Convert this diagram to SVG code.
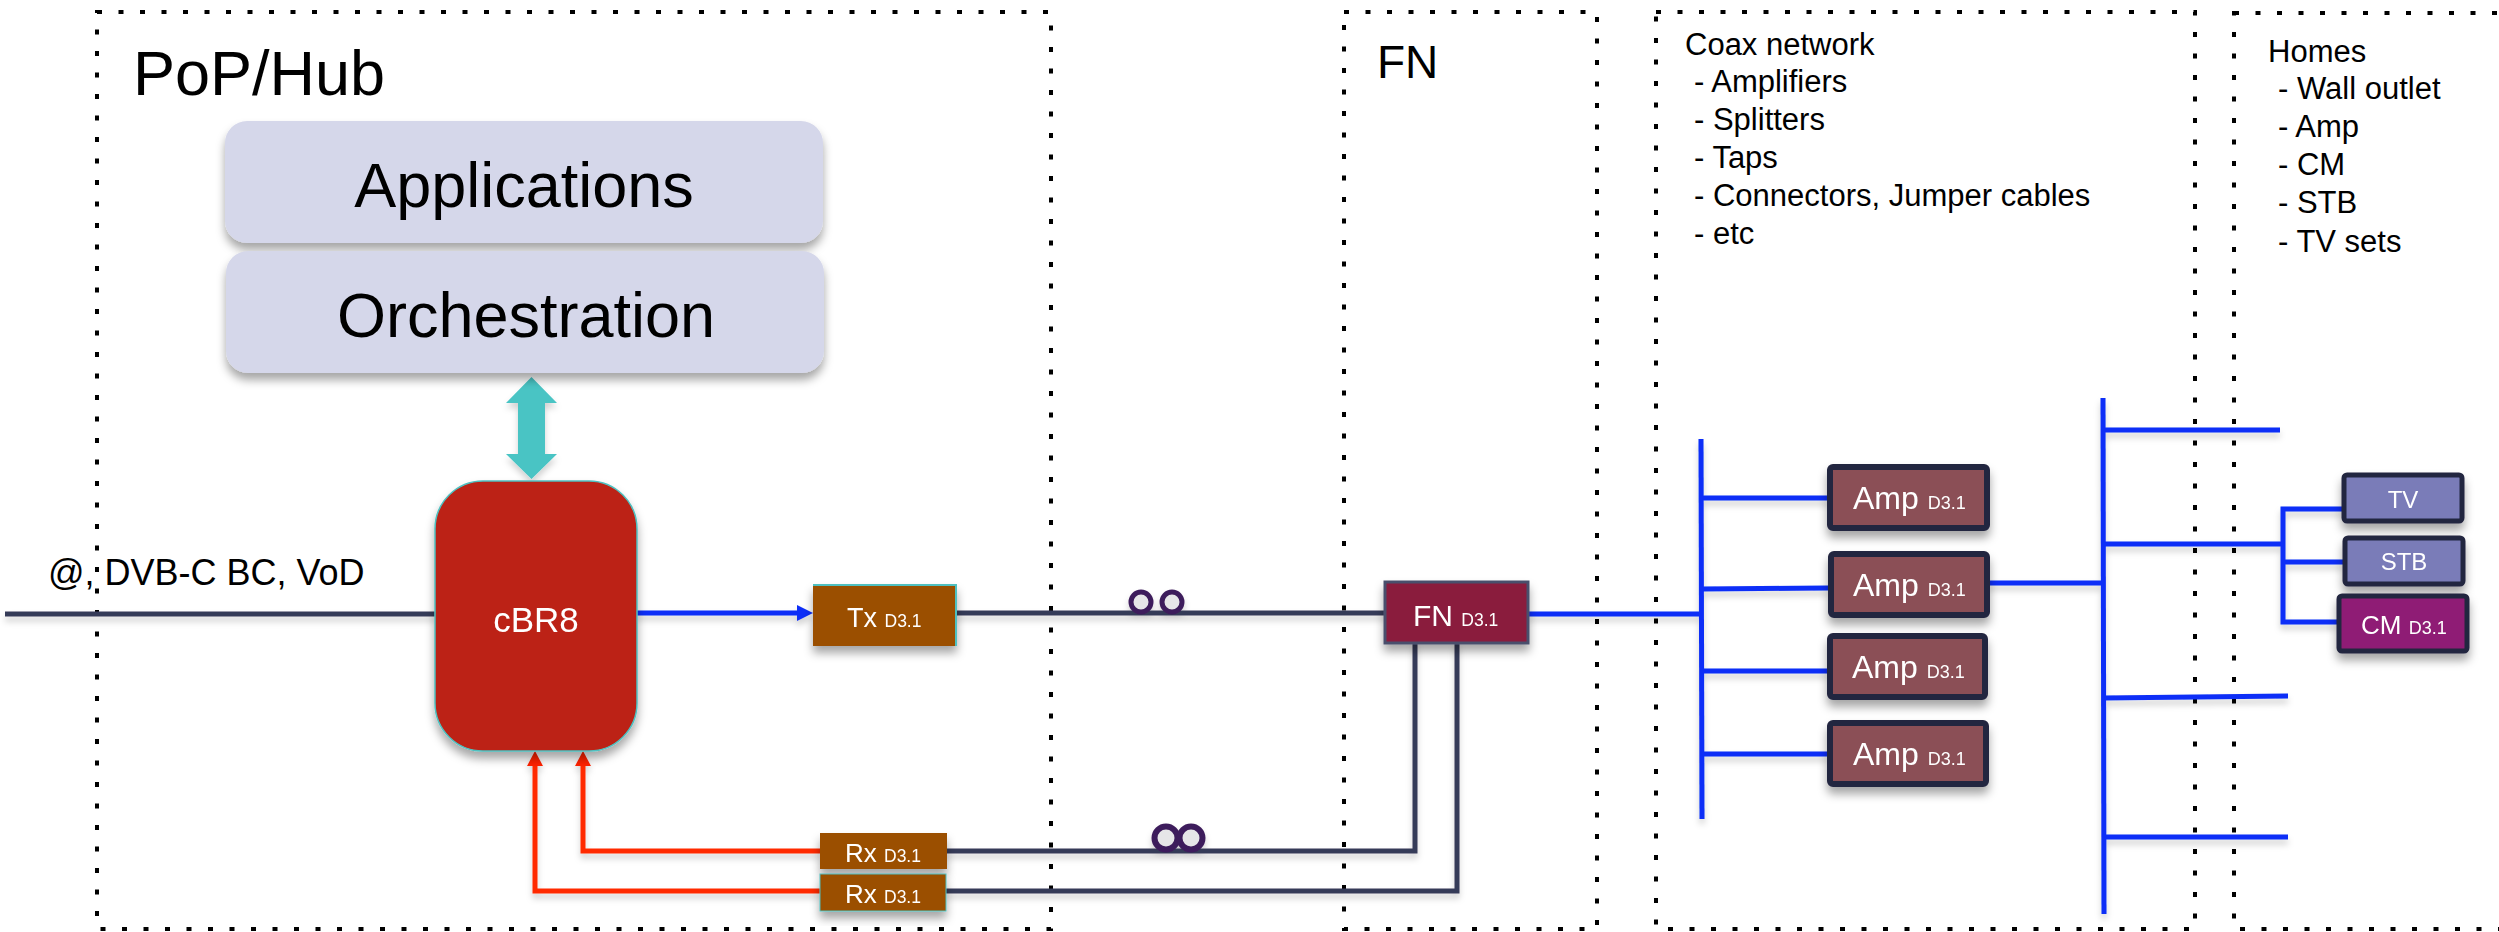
<svg xmlns="http://www.w3.org/2000/svg" width="2499" height="932" viewBox="0 0 2499 932">
<defs>
<filter id="sh" x="-20%" y="-20%" width="140%" height="160%">
<feDropShadow dx="0" dy="7" stdDeviation="5" flood-color="#000" flood-opacity="0.35"/>
</filter>
<filter id="lsh" x="-5%" y="-50%" width="110%" height="300%">
<feDropShadow dx="0" dy="5" stdDeviation="3" flood-color="#000" flood-opacity="0.18"/>
</filter>
</defs>
<style>
.zone{fill:none;stroke:#000;stroke-width:4;stroke-dasharray:5 16.5}
.t{font-family:"Liberation Sans",Arial,sans-serif;fill:#000}
.w{font-family:"Liberation Sans",Arial,sans-serif;fill:#fff}
.dark{fill:none;stroke:#363a58;stroke-width:5}
.blue{fill:none;stroke:#0b2ff7;stroke-width:5}
.red{fill:none;stroke:#ff2a00;stroke-width:5}
.loop{fill:#e6e6e8;stroke:#3e1d5b}
.amp{fill:#8b5057;stroke:#23253f;stroke-width:6}
.home{stroke:#23263f;stroke-width:5}
.brown{fill:#9b4f02}
.sm{font-size:17.5px}
</style>
<rect width="2499" height="932" fill="#fff"/>
<g id="zones">
<rect class="zone" x="97" y="12" width="954" height="917"/>
<rect class="zone" x="1344" y="12" width="253" height="917"/>
<rect class="zone" x="1656" y="12" width="539" height="917"/>
<rect class="zone" x="2234" y="13" width="300" height="916"/>
</g>
<g id="zone-labels">
<text class="t" x="133" y="95" font-size="63">PoP/Hub</text>
<text class="t" x="1377" y="78" font-size="46">FN</text>
<g font-size="31">
<text class="t" x="1685" y="55">Coax network</text>
<text class="t" x="1694" y="92">- Amplifiers</text>
<text class="t" x="1694" y="130">- Splitters</text>
<text class="t" x="1694" y="168">- Taps</text>
<text class="t" x="1694" y="206">- Connectors, Jumper cables</text>
<text class="t" x="1694" y="244">- etc</text>
<text class="t" x="2268" y="62">Homes</text>
<text class="t" x="2278" y="99">- Wall outlet</text>
<text class="t" x="2278" y="137">- Amp</text>
<text class="t" x="2278" y="175">- CM</text>
<text class="t" x="2278" y="213">- STB</text>
<text class="t" x="2278" y="252">- TV sets</text>
</g>
<text class="t" x="48" y="585" font-size="36">@, DVB-C BC, VoD</text>
</g>
<g id="connectors" filter="url(#lsh)">
<line class="dark" x1="5" y1="614" x2="436" y2="614"/>
<line class="blue" x1="636" y1="613" x2="799" y2="613"/>
<polygon points="813,613 797,605 797,621" fill="#0b2ff7"/>
<polygon points="531.5,377 557,403 545,403 545,454 557,454 531.5,479 506,454 518,454 518,403 506,403" fill="#48c4c4"/>
<line class="dark" x1="955" y1="613" x2="1386" y2="613"/>
<circle class="loop" cx="1141" cy="602" r="10" stroke-width="5"/>
<circle class="loop" cx="1172" cy="602" r="10" stroke-width="5"/>
<path class="dark" d="M946,851 H1415 V642"/>
<path class="dark" d="M945,891 H1457 V642"/>
<circle class="loop" cx="1166" cy="838" r="11.5" stroke-width="6"/>
<circle class="loop" cx="1191" cy="838" r="11.5" stroke-width="6"/>
<path class="red" d="M821,851 H583 V763"/>
<path class="red" d="M821,891 H535 V763"/>
<polygon points="583,751 575,766 591,766" fill="#ff2200"/>
<polygon points="535,751 527,766 543,766" fill="#ff2200"/>
<line class="blue" x1="1527" y1="614" x2="1701" y2="614"/>
<line class="blue" x1="1701" y1="439" x2="1702" y2="819"/>
<line class="blue" x1="1701" y1="498" x2="1828" y2="498"/>
<line class="blue" x1="1701" y1="589" x2="1828" y2="588"/>
<line class="blue" x1="1701" y1="671" x2="1828" y2="671"/>
<line class="blue" x1="1701" y1="754" x2="1828" y2="754"/>
<line class="blue" x1="1988" y1="583" x2="2103" y2="583"/>
<line class="blue" x1="2103" y1="398" x2="2104" y2="914"/>
<line class="blue" x1="2103" y1="430" x2="2280" y2="430"/>
<line class="blue" x1="2103" y1="544" x2="2285" y2="544"/>
<line class="blue" x1="2103" y1="698" x2="2288" y2="696"/>
<line class="blue" x1="2103" y1="837" x2="2288" y2="837"/>
<path class="blue" d="M2342,509 H2283 V622 H2337"/>
<line class="blue" x1="2283" y1="562" x2="2343" y2="562"/>
</g>
<g id="applications" filter="url(#sh)">
<rect x="225" y="121" width="598" height="122" rx="22" fill="#d5d7ea"/>
<text class="t" x="524" y="207" font-size="63" text-anchor="middle">Applications</text>
</g>
<g id="orchestration" filter="url(#sh)">
<rect x="226" y="251" width="598" height="122" rx="22" fill="#d5d7ea"/>
<text class="t" x="526" y="337" font-size="63" text-anchor="middle">Orchestration</text>
</g>
<g id="cbr8" filter="url(#sh)">
<rect x="435" y="481" width="202" height="270" rx="48" fill="#bc2316" stroke="#4fc0c0" stroke-width="1.5"/>
<text class="w" x="536" y="632" font-size="35" text-anchor="middle">cBR8</text>
</g>
<g id="tx" filter="url(#sh)">
<rect class="brown" x="813" y="585" width="143" height="61"/>
<path d="M813,585 H956 V646" fill="none" stroke="#4fc0c0" stroke-width="2"/>
<text class="w" x="847" y="627" font-size="27">Tx <tspan class="sm">D3.1</tspan></text>
</g>
<g id="rx1" filter="url(#sh)">
<rect class="brown" x="820" y="833" width="127" height="36"/>
<text class="w" x="845" y="862" font-size="26">Rx <tspan class="sm">D3.1</tspan></text>
</g>
<g id="rx2" filter="url(#sh)">
<rect class="brown" x="820" y="874" width="126" height="37" stroke="#4fc0c0" stroke-width="1"/>
<text class="w" x="845" y="903" font-size="26">Rx <tspan class="sm">D3.1</tspan></text>
</g>
<g id="fn" filter="url(#sh)">
<rect x="1385" y="582" width="143" height="61" fill="#8a1c3c" stroke="#4a4f6c" stroke-width="3"/>
<text class="w" x="1413" y="626" font-size="30">FN <tspan class="sm">D3.1</tspan></text>
</g>
<g id="amp1" filter="url(#sh)">
<rect class="amp" x="1830" y="467" width="157" height="61" rx="3"/>
<text class="w" x="1853" y="509" font-size="32">Amp <tspan font-size="18">D3.1</tspan></text>
</g>
<g id="amp2" filter="url(#sh)">
<rect class="amp" x="1831" y="554" width="156" height="61" rx="3"/>
<text class="w" x="1853" y="596" font-size="32">Amp <tspan font-size="18">D3.1</tspan></text>
</g>
<g id="amp3" filter="url(#sh)">
<rect class="amp" x="1830" y="636" width="155" height="61" rx="3"/>
<text class="w" x="1852" y="678" font-size="32">Amp <tspan font-size="18">D3.1</tspan></text>
</g>
<g id="amp4" filter="url(#sh)">
<rect class="amp" x="1830" y="723" width="156" height="61" rx="3"/>
<text class="w" x="1853" y="765" font-size="32">Amp <tspan font-size="18">D3.1</tspan></text>
</g>
<g id="tv" filter="url(#sh)">
<rect class="home" x="2344" y="475" width="118" height="46" rx="3" fill="#7a7cb8"/>
<text class="w" x="2403" y="508" font-size="24" text-anchor="middle">TV</text>
</g>
<g id="stb" filter="url(#sh)">
<rect class="home" x="2345" y="538" width="118" height="46" rx="3" fill="#7a7cb8"/>
<text class="w" x="2404" y="570" font-size="24" text-anchor="middle">STB</text>
</g>
<g id="cm" filter="url(#sh)">
<rect class="home" x="2339" y="596" width="128" height="55" rx="3" fill="#8f1f74"/>
<text class="w" x="2361" y="634" font-size="26">CM <tspan font-size="18">D3.1</tspan></text>
</g>
</svg>
